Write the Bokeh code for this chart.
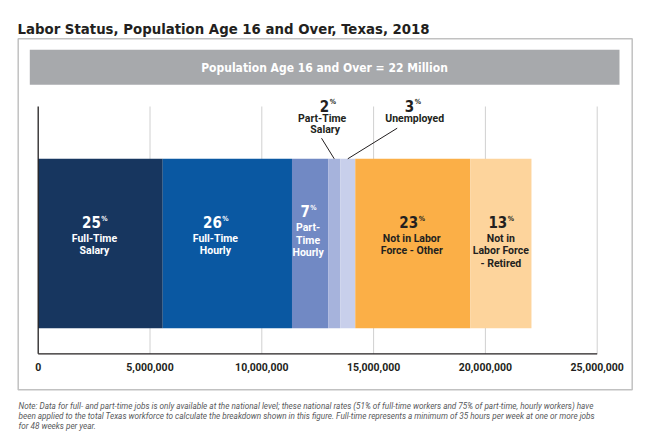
import numpy as np
from bokeh.plotting import figure
from bokeh.models import Range1d, Label, BoxAnnotation, ColumnDataSource
from bokeh.core.properties import value
from bokeh.embed import file_html
from bokeh.resources import INLINE

# ---------------- data ----------------
categories = ["Full-Time Salary", "Full-Time Hourly", "Part-Time Hourly", "Part-Time Salary",
              "Unemployed", "Not in Labor Force - Other", "Not in Labor Force - Retired"]
values = [5570000, 5780000, 1620000, 540000, 670000, 5140000, 2740000]
percents = [25, 26, 7, 2, 3, 23, 13]
colors = ["#17365f", "#0a58a2", "#7189c4", "#a6b3dc", "#c8cfeb", "#fbaf47", "#fdd49c"]
x_ticks = [0, 5000000, 10000000, 15000000, 20000000, 25000000]
x_tick_labels = ["0", "5,000,000", "10,000,000", "15,000,000", "20,000,000", "25,000,000"]

title_text = "Labor Status, Population Age 16 and Over, Texas, 2018"
banner_text = "Population Age 16 and Over = 22 Million"
note_lines = [
    "Note: Data for full- and part-time jobs is only available at the national level; these national rates (51% of full-time workers and 75% of part-time, hourly workers) have",
    "been applied to the total Texas workforce to calculate the breakdown shown in this figure. Full-time represents a minimum of 35 hours per week at one or more jobs",
    "for 48 weeks per year.",
]
inner_lines = [["Full-Time", "Salary"], ["Full-Time", "Hourly"], ["Part-", "Time", "Hourly"], None, None,
               ["Not in Labor", "Force - Other"], ["Not in", "Labor Force", "- Retired"]]

# ---------------- styles / layout ----------------
CONDENSED = "DejaVu Sans Condensed"
SANS = "Roboto"
DARK = "#231f20"
inner_color = ["white", "white", "white", DARK, DARK, DARK, DARK]
label_dx = [-6, -12, -2, 0, 0, -1, 0]
number_y = [221.3, 221.3, 210.7, None, None, 221.3, 221.3]

W, H = 650, 435
PLOT_L, PLOT_R, PLOT_T, PLOT_B = 37.7, 596.7, 106.0, 353.3
XMAX = 25000000
xs = XMAX / (PLOT_R - PLOT_L)
ys = 1.0 / (PLOT_B - PLOT_T)

ends = np.cumsum(values)
starts = ends - np.array(values)
mids = (starts + ends) / 2


def dy(yr):
    return (PLOT_B - yr) * ys


def dxp(xr):
    return (xr - PLOT_L) * xs


p = figure(width=W, height=H, output_backend="svg", toolbar_location=None,
           x_axis_type=None, y_axis_type=None, min_border=0,
           x_range=Range1d(dxp(0), dxp(W)), y_range=Range1d(dy(H), dy(0)))
p.outline_line_color = None
p.background_fill_color = "white"
p.border_fill_color = "white"
p.grid.visible = False

# outer box and banner
p.add_layout(BoxAnnotation(left=17.7, right=631.7, bottom=H - 389.3, top=H - 38.3,
                           left_units="screen", right_units="screen", top_units="screen",
                           bottom_units="screen", fill_alpha=0, line_color="#333333", line_width=1.5))
p.add_layout(BoxAnnotation(left=29.3, right=619, bottom=H - 84.3, top=H - 49.3,
                           left_units="screen", right_units="screen", top_units="screen",
                           bottom_units="screen", fill_color="#a7a9ac", fill_alpha=1, line_color=None))

# grid lines and axis lines (data coordinates)
p.segment(x0=x_ticks[1:], y0=0, x1=x_ticks[1:], y1=1, line_color="#d0d0d0", line_width=1)

src = ColumnDataSource(dict(left=starts, right=ends, color=colors, cat=categories))
p.quad(left="left", right="right", bottom=dy(327.7), top=dy(158.3), fill_color="color",
       line_color=None, source=src)

p.segment(x0=[0, 0], y0=[0, 0], x1=[0, XMAX], y1=[1, 0], line_color=DARK, line_width=1.3)
p.text(x=x_ticks, y=dy(366), text=x_tick_labels, text_font=value(SANS), text_font_style="bold",
       text_font_size="10.5px", text_color=DARK, text_align="center", text_baseline="middle")

# leader lines for the two thin segments
p.segment(x0=[dxp(321), dxp(396.7)], y0=[dy(137.7), dy(127.7)], x1=[mids[3], mids[4]],
          y1=[dy(158.3), dy(158.3)], line_color=DARK, line_width=1)


def lab(text, x, y, size, font, color, style="bold", xu="screen", align="center", xo=0,
        baseline="middle"):
    p.add_layout(Label(x=x, y=H - y, x_units=xu, y_units="screen", text=text, text_font=font,
                       text_font_size=size, text_font_style=style, text_color=color,
                       text_align=align, text_baseline=baseline, x_offset=xo))


lab(title_text, 17, 28, "14.8px", CONDENSED, DARK, align="left", baseline="alphabetic")
lab(banner_text, 324, 67, "12px", CONDENSED, "white")
for i, line in enumerate(note_lines):
    lab(line, 18, 405.3 + 10.3 * i, "8.2px", SANS, "#58595b", style="italic", align="left")


def pct(num, x, y, color, xu, xo):
    # number right-aligned and a small superscript % left-aligned at the same anchor
    shift = 4.7 * len(num) - 3
    lab(num, x, y, "15px", CONDENSED, color, xu=xu, align="right", xo=xo + shift)
    lab("%", x, y - 3.2, "7px", CONDENSED, color, xu=xu, align="left", xo=xo + shift + 0.5)


# labels inside the bar
for i in range(len(values)):
    if inner_lines[i] is None:
        continue
    ny = number_y[i]
    pct(str(percents[i]), mids[i], ny, inner_color[i], "data", label_dx[i])
    for j, line in enumerate(inner_lines[i]):
        lab(line, mids[i], ny + 16.4 + 12.5 * j, "10.5px", SANS, inner_color[i], xu="data",
            xo=label_dx[i])

# labels above the bar for the two thin segments
pct(str(percents[3]), 327, 105, DARK, "screen", 0)
lab("Part-Time", 321.7, 118.3, "10.5px", SANS, DARK)
lab("Salary", 324.7, 129.3, "10.5px", SANS, DARK)
pct(str(percents[4]), 412, 105, DARK, "screen", 0)
lab("Unemployed", 414.2, 118.3, "10.5px", SANS, DARK)

open("out.html", "w").write(file_html(p, INLINE))
